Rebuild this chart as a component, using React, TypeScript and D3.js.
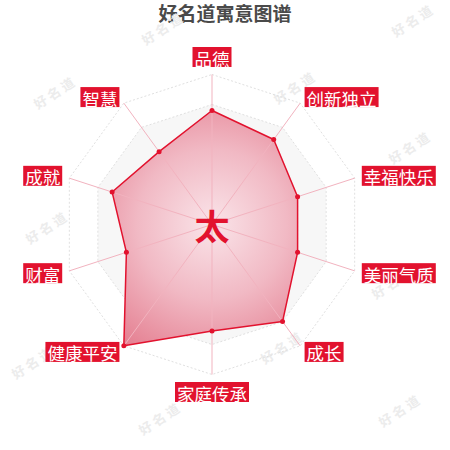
import * as d3 from 'd3'

// radar axes, clockwise from the top
const indicators = ['品德', '创新独立', '幸福快乐', '美丽气质', '成长', '家庭传承', '健康平安', '财富', '成就', '智慧']
const values = [76, 70, 60, 60, 80, 71, 100, 60, 70, 60]
const maxValue = 100
const splitLevels = [20, 40, 60, 80, 100]
const title = '好名道寓意图谱'
const centerChar = '太'
const watermark = '好名道'
// decorative watermark spots [x, y]
const watermarkSpots: [number, number][] = [
  [163, 28], [413, 20], [55, 92], [295, 87], [410, 147], [47, 227],
  [300, 212], [393, 282], [282, 347], [33, 362], [160, 418], [400, 410],
]

const W = 450
const H = 450
const CX = 212
const CY = 224.5
const R = 150
const NAME_GAP = 7.5
const RED = '#e2122e'
const LABEL_FS = 17.5
const LABEL_PAD = 2
const LABEL_H = 20

export default function App() {
  const n = indicators.length
  const rScale = d3.scaleLinear().domain([0, maxValue]).range([0, R])
  const angle = (i: number) => (i * 2 * Math.PI) / n
  const pt = (i: number, r: number): [number, number] => [
    Math.sin(angle(i)) * r,
    -Math.cos(angle(i)) * r,
  ]

  const ringLine = d3
    .lineRadial<number>()
    .angle((_, i) => angle(i))
    .radius((d) => rScale(d))
    .curve(d3.curveLinearClosed)

  const ringPath = (v: number) => ringLine(indicators.map(() => v)) as string

  const seriesPath = d3
    .lineRadial<number>()
    .angle((_, i) => angle(i))
    .radius((d) => rScale(d))
    .curve(d3.curveLinearClosed)(values) as string

  // alternating split-area bands (outer band white)
  const bands = splitLevels.map((lv, k) => {
    const inner = k === 0 ? 0 : splitLevels[k - 1]
    const shaded = (splitLevels.length - 1 - k) % 2 === 1
    return { outer: lv, inner, shaded }
  })

  return (
    <svg
      width={W}
      height={H}
      style={{ position: 'absolute', left: 0, top: 0, background: '#fff' }}
      fontFamily="'Noto Sans CJK SC', 'Noto Sans', sans-serif"
    >
      <defs>
        <radialGradient id="fillGrad" gradientUnits="userSpaceOnUse" cx={0} cy={0} r={R}>
          <stop offset="0%" stopColor="#fae4e9" />
          <stop offset="50%" stopColor="#f1b9c4" />
          <stop offset="100%" stopColor="#e47d8f" />
        </radialGradient>
      </defs>

      <text
        x={W / 2}
        y={21}
        textAnchor="middle"
        fontSize={19}
        fontWeight="bold"
        fill="#4a4a4a"
      >
        {title}
      </text>

      {/* watermarks */}
      {watermarkSpots.map(([x, y], i) => (
        <text
          key={i}
          x={x}
          y={y}
          textAnchor="middle"
          dominantBaseline="central"
          fontSize={13}
          fontWeight="bold"
          letterSpacing={3}
          fill="#ececec"
          opacity={i === 6 ? 0.5 : 1}
          transform={`rotate(-33, ${x}, ${y})`}
        >
          {watermark}
        </text>
      ))}

      <g transform={`translate(${CX},${CY})`}>
        {/* split areas */}
        {bands.map((b, k) =>
          b.shaded ? (
            <path
              key={k}
              d={ringPath(b.outer) + (b.inner > 0 ? ringPath(b.inner) : '')}
              fill="#f7f7f7"
              fillRule="evenodd"
            />
          ) : null
        )}

        {/* split lines */}
        {splitLevels.map((lv) => (
          <path
            key={lv}
            d={ringPath(lv)}
            fill="none"
            stroke="#e0e0e0"
            strokeWidth={1}
            strokeDasharray="2 2"
          />
        ))}

        {/* series polygon */}
        <path d={seriesPath} fill="url(#fillGrad)" stroke="none" />

        {/* axis lines */}
        {indicators.map((_, i) => {
          const [x, y] = pt(i, rScale(maxValue))
          return <line key={i} x1={0} y1={0} x2={x} y2={y} stroke="#f2b3bf" strokeWidth={1} />
        })}

        <path d={seriesPath} fill="none" stroke={RED} strokeWidth={1.5} strokeLinejoin="round" />

        {values.map((v, i) => {
          const [x, y] = pt(i, rScale(v))
          return <circle key={i} cx={x} cy={y} r={2.5} fill={RED} />
        })}

        {/* indicator labels */}
        {indicators.map((name, i) => {
          const [lx, ly] = pt(i, R + NAME_GAP)
          const s = Math.sin(angle(i))
          const c = Math.cos(angle(i))
          const bw = name.length * LABEL_FS + LABEL_PAD * 2
          let bx = lx - bw / 2
          if (s > 0.01) bx = lx
          else if (s < -0.01) bx = lx - bw
          let by = ly - LABEL_H / 2
          if (Math.abs(s) < 0.01) by = c > 0 ? ly - LABEL_H : ly
          return (
            <g key={name}>
              <rect x={bx} y={by} width={bw} height={LABEL_H} fill={RED} />
              <text
                x={bx + bw / 2}
                y={by + LABEL_H / 2 + 1}
                textAnchor="middle"
                dominantBaseline="central"
                fontSize={LABEL_FS}
                fill="#fff"
              >
                {name}
              </text>
            </g>
          )
        })}

        <text
          x={0}
          y={0}
          textAnchor="middle"
          dominantBaseline="central"
          fontSize={35}
          fontWeight="bold"
          fill={RED}
        >
          {centerChar}
        </text>
      </g>
    </svg>
  )
}
